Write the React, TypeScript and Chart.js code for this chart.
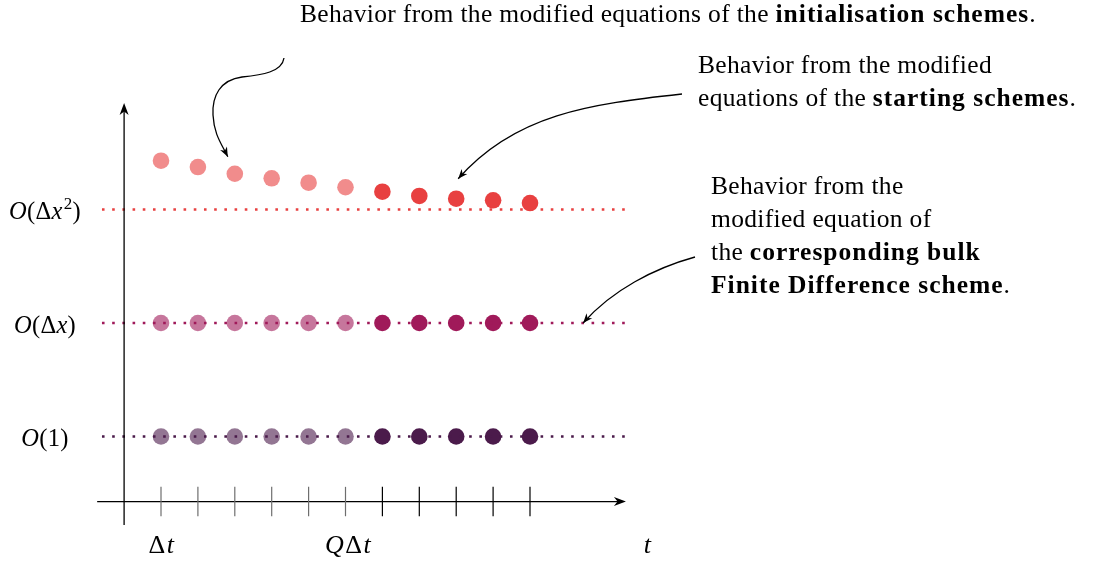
import { useEffect, useRef } from "react";
import { Chart, registerables } from "chart.js";

Chart.register(...registerables);

// ---------------- data ----------------
const steps = [1, 2, 3, 4, 5, 6, 7, 8, 9, 10, 11];
const orderOneValues = [0, 0, 0, 0, 0, 0, 0, 0, 0, 0, 0];
const orderDxValues = [1, 1, 1, 1, 1, 1, 1, 1, 1, 1, 1];
const orderDx2Values = [2.43, 2.374, 2.315, 2.275, 2.236, 2.196, 2.157, 2.119, 2.095, 2.081, 2.057];
const levelValues = [0, 1, 2];
const Q = 6; // index (in steps) of the QΔt tick
const lineStart = -0.6;
const lineEnd = 13.57;

const RED = "rgb(232,64,64)";
const RED_L = "rgba(232,64,64,0.6)";
const MAG = "rgb(160,26,90)";
const MAG_L = "rgba(160,26,90,0.6)";
const PUR = "rgb(75,27,75)";
const PUR_L = "rgba(75,27,75,0.6)";

type Seg = { t: string; b?: boolean; i?: boolean; sup?: boolean };

const FONT = '"Liberation Serif", "DejaVu Serif", serif';

let SPACING_REG = "0px";
let SPACING_BOLD = "0px";

function segFont(s: Seg, size: number) {
  const sz = s.sup ? Math.round(size * 0.7) : size;
  return `${s.i ? "italic " : ""}${s.b ? "bold " : ""}${sz}px ${FONT}`;
}

function setSeg(ctx: CanvasRenderingContext2D, s: Seg, size: number) {
  ctx.font = segFont(s, size);
  (ctx as any).letterSpacing = s.b ? SPACING_BOLD : SPACING_REG;
}

function richWidth(ctx: CanvasRenderingContext2D, segs: Seg[], size: number) {
  let w = 0;
  for (const s of segs) {
    setSeg(ctx, s, size);
    w += ctx.measureText(s.t).width + (s.sup ? 1 : 0);
  }
  return w;
}

function drawRich(
  ctx: CanvasRenderingContext2D,
  segs: Seg[],
  x: number,
  y: number,
  size: number,
  align: "left" | "center" = "left"
) {
  let cx = x;
  if (align === "center") cx = x - richWidth(ctx, segs, size) / 2;
  ctx.textAlign = "left";
  ctx.textBaseline = "alphabetic";
  for (const s of segs) {
    setSeg(ctx, s, size);
    const dy = s.sup ? -size * 0.42 : 0;
    ctx.fillText(s.t, cx + (s.sup ? 1 : 0), y + dy);
    cx += ctx.measureText(s.t).width + (s.sup ? 1 : 0);
  }
  (ctx as any).letterSpacing = "0px";
}

function arrowHead(ctx: CanvasRenderingContext2D, x: number, y: number, ang: number, len: number, half: number) {
  ctx.save();
  ctx.translate(x, y);
  ctx.rotate(ang);
  ctx.beginPath();
  ctx.moveTo(0, 0);
  ctx.lineTo(-len, -half);
  ctx.lineTo(-len * 0.7, 0);
  ctx.lineTo(-len, half);
  ctx.closePath();
  ctx.fill();
  ctx.restore();
}

const levelLabels: Seg[][] = [
  [{ t: "O", i: true }, { t: "(1)" }],
  [{ t: "O", i: true }, { t: "(Δ" }, { t: "x", i: true }, { t: ")" }],
  [{ t: "O", i: true }, { t: "(Δ" }, { t: "x", i: true }, { t: "2", sup: true }, { t: ")" }],
];

const overlayPlugin = {
  id: "overlay",
  afterDraw(chart: any) {
    const ctx: CanvasRenderingContext2D = chart.ctx;
    const xs = chart.scales.x;
    const ys = chart.scales.y;
    const X = (v: number) => xs.getPixelForValue(v);
    const Y = (v: number) => ys.getPixelForValue(v);
    ctx.save();
    ctx.fillStyle = "#000";
    ctx.strokeStyle = "#000";
    ctx.lineWidth = 1.3;

    // x axis
    const ax = Y(-0.573);
    ctx.beginPath();
    ctx.moveTo(X(-0.73), ax);
    ctx.lineTo(X(13.6) - 6, ax);
    ctx.stroke();
    arrowHead(ctx, X(13.6), ax, 0, 12, 4.5);
    // y axis
    const ay = X(0);
    ctx.beginPath();
    ctx.moveTo(ay, Y(-0.78));
    ctx.lineTo(ay, Y(2.938) + 6);
    ctx.stroke();
    arrowHead(ctx, ay, Y(2.938), -Math.PI / 2, 12, 4.5);

    // ticks
    steps.forEach((s, i) => {
      ctx.strokeStyle = i < Q ? "#6e6e6e" : "#000";
      ctx.lineWidth = 1.2;
      ctx.beginPath();
      ctx.moveTo(X(s), ax - 14.7);
      ctx.lineTo(X(s), ax + 14.7);
      ctx.stroke();
    });

    // tick labels
    ctx.fillStyle = "#000";
    const tb = ax + 51.5;
    SPACING_REG = "1.5px";
    drawRich(ctx, [{ t: "Δ" }, { t: "t", i: true }], X(steps[0]) + 1, tb, 26, "center");
    drawRich(ctx, [{ t: "Q", i: true }, { t: "Δ" }, { t: "t", i: true }], X(steps[Q - 1]) + 3, tb, 26, "center");
    drawRich(ctx, [{ t: "t", i: true }], X(14.2), tb, 26, "center");
    SPACING_REG = "0.3px";
    // level labels
    levelValues.forEach((lv, i) => {
      drawRich(ctx, levelLabels[i], 45, Y(lv) + 9.5, 24.5, "center");
    });

    // annotation texts
    const fs = 25.5;
    SPACING_REG = "0.33px";
    SPACING_BOLD = "1.0px";
    drawRich(
      ctx,
      [{ t: "Behavior from the modified equations of the " }, { t: "initialisation schemes", b: true }, { t: "." }],
      300,
      22,
      fs
    );
    drawRich(ctx, [{ t: "Behavior from the modified" }], 698, 73, fs);
    drawRich(ctx, [{ t: "equations of the " }, { t: "starting schemes", b: true }, { t: "." }], 698, 106, fs);
    drawRich(ctx, [{ t: "Behavior from the" }], 711, 194, fs);
    drawRich(ctx, [{ t: "modified equation of" }], 711, 227, fs);
    drawRich(ctx, [{ t: "the " }, { t: "corresponding bulk", b: true }], 711, 260, fs);
    drawRich(ctx, [{ t: "Finite Difference scheme", b: true }, { t: "." }], 711, 293, fs);
    SPACING_REG = "0px";
    SPACING_BOLD = "0px";

    // annotation arrows (tips anchored on data positions)
    ctx.strokeStyle = "#000";
    ctx.fillStyle = "#000";
    ctx.lineWidth = 1.3;
    // segs: start point, then groups of [cp1, cp2, end]; last end is the tip
    const curve = (start: number[], segs: number[][][]) => {
      ctx.beginPath();
      ctx.moveTo(start[0], start[1]);
      segs.forEach((g) => ctx.bezierCurveTo(g[0][0], g[0][1], g[1][0], g[1][1], g[2][0], g[2][1]));
      ctx.stroke();
      const lg = segs[segs.length - 1];
      const ang = Math.atan2(lg[2][1] - lg[1][1], lg[2][0] - lg[1][0]);
      arrowHead(ctx, lg[2][0], lg[2][1], ang, 9.5, 3.8);
    };
    // arrow 1 -> third initialisation dot
    const t1 = [X(steps[2]) - 7, Y(orderDx2Values[2]) - 17];
    curve(
      [284, 58],
      [
        [[282, 72], [262, 75], [242, 77]],
        [[220, 80], [212, 96], [213, 115]],
        [[214, 134], [t1[0] - 7, t1[1] - 14], t1],
      ]
    );
    // arrow 2 -> ninth dot (starting scheme)
    const t2 = [X(steps[8]) + 2, Y(orderDx2Values[8]) - 20];
    curve(
      [682, 94],
      [[[590, 104], [515, 114], t2]]
    );
    // arrow 3 -> bulk dotted line
    const t3 = [X(12.44), Y(1)];
    curve(
      [695, 257],
      [[[655, 268], [612, 290], t3]]
    );
    ctx.restore();
  },
};

function dotLine(y: number, color: string) {
  return {
    type: "line" as const,
    data: [
      { x: lineStart, y },
      { x: lineEnd, y },
    ],
    borderColor: color,
    borderWidth: 2.6,
    borderDash: [2.6, 7.6],
    borderCapStyle: "butt" as const,
    pointRadius: 0,
    fill: false,
  };
}

function dots(values: number[], dark: string, light: string) {
  return {
    type: "scatter" as const,
    data: steps.map((s, i) => ({ x: s, y: values[i] })),
    pointRadius: 8.3,
    pointBorderWidth: 0,
    pointBackgroundColor: steps.map((_, i) => (i < Q ? light : dark)),
    pointBorderColor: "rgba(0,0,0,0)",
  };
}

export default function App() {
  const ref = useRef<HTMLCanvasElement | null>(null);
  useEffect(() => {
    if (!ref.current) return;
    const chart = new Chart(ref.current, {
      type: "scatter",
      data: {
        datasets: [
          dotLine(levelValues[0], PUR),
          dotLine(levelValues[1], MAG),
          dotLine(levelValues[2], RED),
          dots(orderOneValues, PUR, PUR_L),
          dots(orderDxValues, MAG, MAG_L),
          dots(orderDx2Values, RED, RED_L),
        ] as any,
      },
      options: {
        animation: false,
        responsive: false,
        maintainAspectRatio: false,
        devicePixelRatio: 1,
        layout: { padding: 0, autoPadding: false },
        events: [],
        plugins: { legend: { display: false }, tooltip: { enabled: false } },
        scales: {
          x: { type: "linear", display: false, min: -124.1 / 36.9, max: (1096 - 124.1) / 36.9 },
          y: { type: "linear", display: false, min: (436.5 - 563) / 113.5, max: 436.5 / 113.5 },
        },
      },
      plugins: [overlayPlugin],
    });
    return () => chart.destroy();
  }, []);
  return (
    <div style={{ position: "fixed", left: 0, top: 0, width: 1096, height: 563, background: "#fff" }}>
      <canvas ref={ref} width={1096} height={563} style={{ display: "block" }} />
    </div>
  );
}
